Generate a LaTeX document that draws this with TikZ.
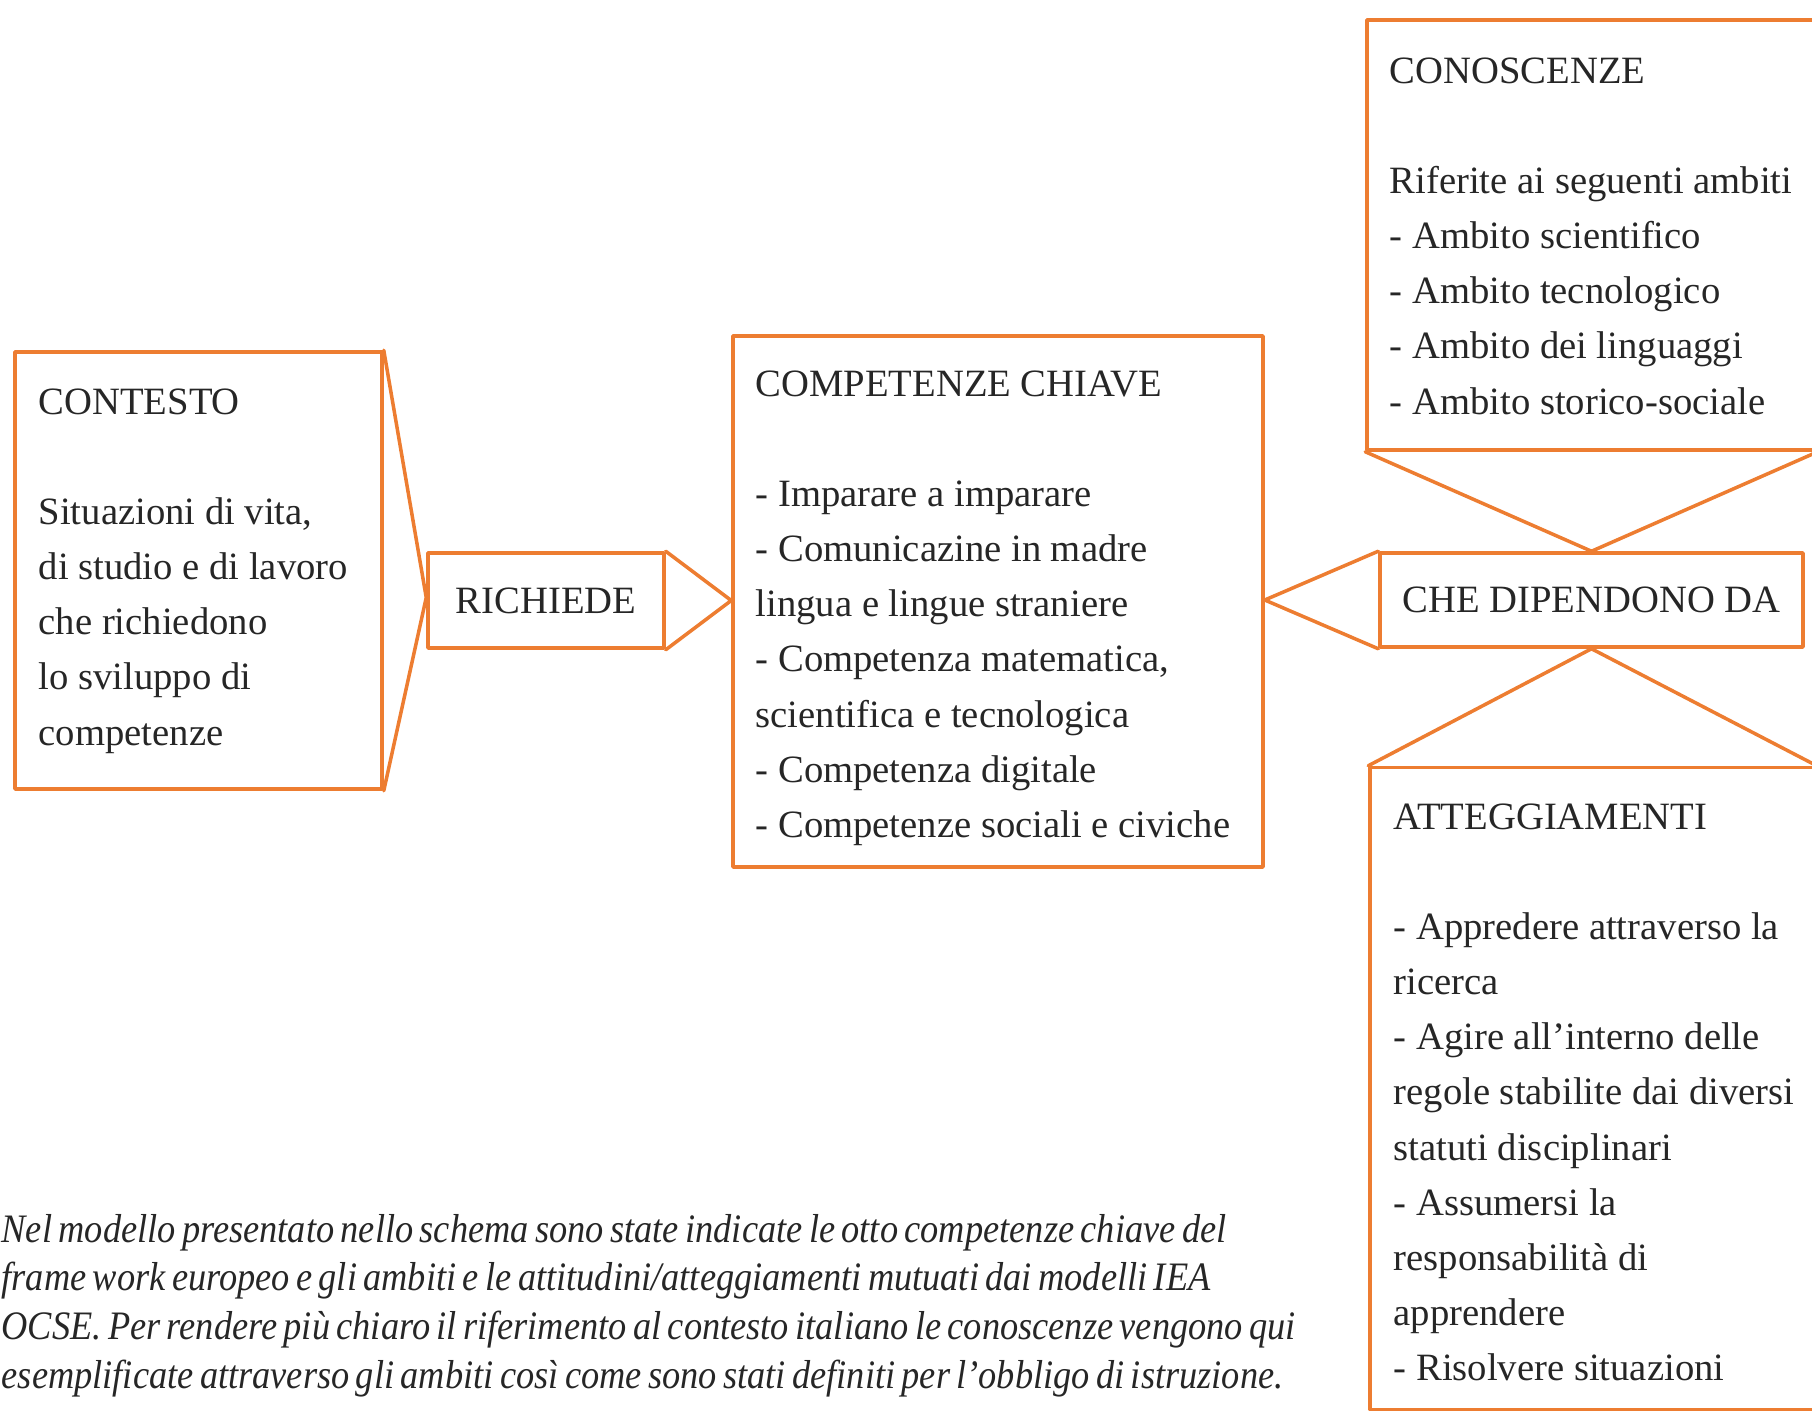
\documentclass[tikz,border=0pt]{standalone}
\usepackage{fontspec}
\setmainfont{Liberation Serif}
\newfontfamily\notefont[FakeStretch=0.90, WordSpace=0.7]{Liberation Serif}
\definecolor{boxorange}{HTML}{ED7D31}
\begin{document}
\begin{tikzpicture}[line join=round, line cap=round, font=\fontsize{11}{15.7}\selectfont,
		box/.style={draw=boxorange, line width=1pt, rectangle, inner sep=0pt, text=black!85},
		txt/.style={anchor=base west, inner sep=0pt, align=left, text=black!85,
			execute at begin node={\spaceskip=0pt\xspaceskip=0pt}}]
	\useasboundingbox (0,0) rectangle (18.12,14.10);
	\clip (0,0) rectangle (18.12,14.10);
	
	% boxes
	\node[box, minimum width=3.67cm, minimum height=4.37cm] (ctx) at (1.985,8.395) {};
	\node[box, minimum width=2.36cm, minimum height=0.95cm] (ric) at (5.46,8.095) {RICHIEDE};
	\node[box, minimum width=5.30cm, minimum height=5.31cm] (comp) at (9.98,8.085) {};
	\node[box, minimum width=4.23cm, minimum height=0.94cm] (che) at (15.915,8.10) {CHE DIPENDONO DA};
	\node[box, minimum width=4.49cm, minimum height=4.30cm] (con) at (15.915,11.75) {};
	\node[box, minimum width=4.45cm, minimum height=6.42cm] (att) at (15.925,3.215) {};
	
	% chevrons
	\draw[boxorange, line width=1pt] (ctx.north east) -- ([yshift=0.03cm]ric.west) -- (ctx.south east);
	\draw[boxorange, line width=1pt] (ric.north east) -- (ric.east -| comp.west) -- (ric.south east);
	\draw[boxorange, line width=1pt] (che.north west) -- (che.west -| comp.east) -- (che.south west);
	\draw[boxorange, line width=1pt] (con.south west) -- (che.north) -- (con.south east);
	\draw[boxorange, line width=1pt] (att.north west) -- (che.south) -- (att.north east);
	
	% texts
	\node[txt, text width=3.4cm] (ctxtext) at (0.38,9.96) {CONTESTO\\[\baselineskip]
		Situazioni di vita,\\ di studio e di lavoro\\ che richiedono\\ lo sviluppo di\\ competenze};
	\node[txt, text width=5cm] (comptext) at (7.55,10.14) {COMPETENZE CHIAVE\\[\baselineskip]
		- Imparare a imparare\\ - Comunicazine in madre\\ lingua e lingue straniere\\
		- Competenza matematica,\\ scientifica e tecnologica\\ - Competenza digitale\\
		- Competenze sociali e civiche};
	\node[txt, text width=4.3cm] (context) at (13.89,13.27) {CONOSCENZE\\[\baselineskip]
		Riferite ai seguenti ambiti\\ - Ambito scientifico\\ - Ambito tecnologico\\
		- Ambito dei linguaggi\\ - Ambito storico-sociale};
	\node[txt, text width=4.3cm] (atttext) at (13.93,5.81) {ATTEGGIAMENTI\\[\baselineskip]
		- Appredere attraverso la\\ ricerca\\ - Agire all’interno delle\\
		regole stabilite dai diversi\\ statuti disciplinari\\ - Assumersi la\\
		responsabilità di\\ apprendere\\ - Risolvere situazioni};
	
	% caption
	\node[txt, text width=14cm, font=\notefont\itshape\fontsize{11.5}{13.9}\selectfont] (note) at (0.01,1.68)
		{Nel modello presentato nello schema sono state indicate le otto competenze chiave del\\
		frame work europeo e gli ambiti e le attitudini/atteggiamenti mutuati dai modelli IEA\\
		OCSE. Per rendere più chiaro il riferimento al contesto italiano le conoscenze vengono qui\\
		esemplificate attraverso gli ambiti così come sono stati definiti per l’obbligo di istruzione.};
\end{tikzpicture}
\end{document}
